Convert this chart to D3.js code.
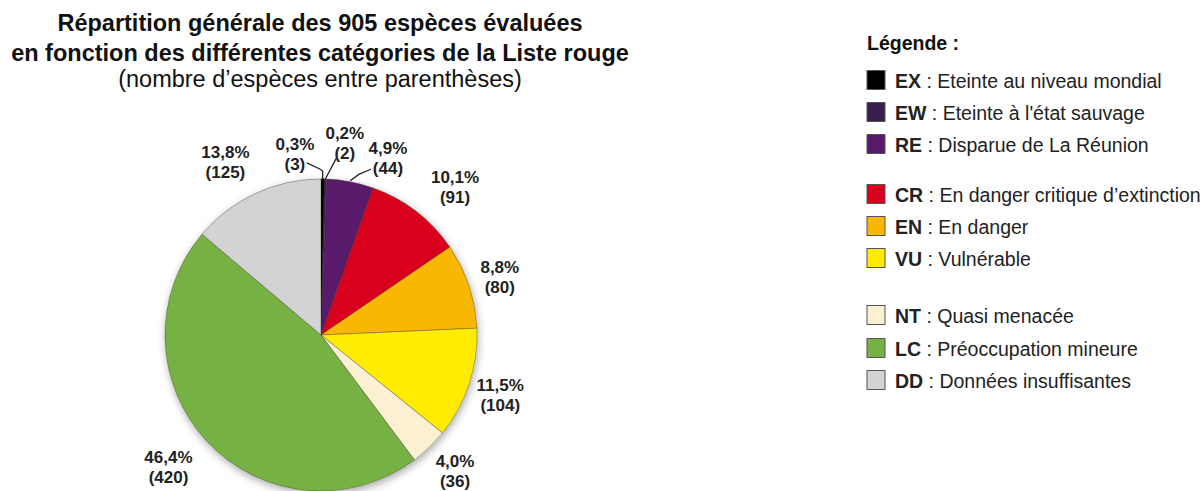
<!DOCTYPE html>
<html><head><meta charset="utf-8">
<script src="https://cdn.jsdelivr.net/npm/d3@7"></script>
<style>
html,body{margin:0;padding:0;background:#fff;}
text{font-family:"Liberation Sans",Arial,sans-serif;}
</style></head>
<body>
<svg id="chart" width="1203" height="491"></svg>
<script>
const categories = ["EX","EW","RE","CR","EN","VU","NT","LC","DD"];
const counts = [3,2,44,91,80,104,36,420,125];
const percentLabels = ["0,3%","0,2%","4,9%","10,1%","8,8%","11,5%","4,0%","46,4%","13,8%"];
const descriptions = ["Eteinte au niveau mondial","Eteinte à l'état sauvage","Disparue de La Réunion",
  "En danger critique d’extinction","En danger","Vulnérable",
  "Quasi menacée","Préoccupation mineure","Données insuffisantes"];
const colors = ["#000000","#3a1d4f","#5a1a6c","#d8001c","#f8b700","#ffec00","#fbf0d2","#76b143","#d3d3d5"];
const titleLines = ["Répartition générale des 905 espèces évaluées",
  "en fonction des différentes catégories de la Liste rouge",
  "(nombre d’espèces entre parenthèses)"];
const legendTitle = "Légende :";

const svg = d3.select("#chart");
const cx = 321, cy = 335, R = 156;

// title
svg.append("g").selectAll("text").data(titleLines).join("text")
  .attr("x", 320).attr("y", (d,i)=>[31,61,87][i])
  .attr("text-anchor","middle")
  .attr("font-size", 23.5)
  .attr("font-weight",(d,i)=>i<2?"bold":"normal")
  .attr("fill","#111")
  .text(d=>d);

// shadow filter
const defs = svg.append("defs");
const f = defs.append("filter").attr("id","sh").attr("x","-20%").attr("y","-20%").attr("width","140%").attr("height","140%");
f.append("feDropShadow").attr("dx",1).attr("dy",3).attr("stdDeviation",4).attr("flood-color","#000").attr("flood-opacity",0.35);

const data = categories.map((c,i)=>({cat:c,count:counts[i],pct:percentLabels[i],color:colors[i]}));
const pie = d3.pie().value(d=>d.count).sort(null).startAngle(0).endAngle(2*Math.PI);
const arcs = pie(data);
const arc = d3.arc().innerRadius(0).outerRadius(R);

const pg = svg.append("g").attr("transform",`translate(${cx},${cy})`);
pg.append("circle").attr("r",R).attr("fill","#ccc").attr("filter","url(#sh)");
pg.selectAll("path").data(arcs).join("path")
  .attr("d",arc).attr("fill",d=>d.data.color)
  .attr("stroke",d=>d.data.cat==="EX"?"#000":"rgba(60,50,30,0.45)").attr("stroke-width",0.8);

// label layout: angle offset (deg) and radius
const labelLayout = {
  EX:{da:-8.8,r:183}, EW:{da:5.5,r:193}, RE:{da:10,r:189},
  CR:{da:4.5,r:200}, EN:{da:0.4,r:188}, VU:{da:0.3,r:189},
  NT:{da:-0.6,r:191}, LC:{da:2.3,r:202}, DD:{da:-4,r:198}
};
const polar = (angDeg,r)=>[r*Math.sin(angDeg*Math.PI/180), -r*Math.cos(angDeg*Math.PI/180)];
const lg = pg.append("g");
arcs.forEach(a=>{
  const mid = (a.startAngle+a.endAngle)/2*180/Math.PI;
  const L = labelLayout[a.data.cat];
  const [x,y] = polar(mid+L.da, L.r);
  const t = lg.append("text").attr("text-anchor","middle").attr("font-size",17).attr("font-weight","bold").attr("fill","#222");
  t.append("tspan").attr("x",x).attr("y",y-4).text(a.data.pct);
  t.append("tspan").attr("x",x).attr("y",y+16).text(`(${a.data.count})`);
  a.lx = x; a.ly = y; a.mid = mid;
});
// leader lines for small slices
const line = d3.line().curve(d3.curveLinear);
const leaders = [];
{
  const a = arcs[0];
  const p0 = polar(a.mid, R), p1 = polar(a.mid, R+8);
  leaders.push([p0,p1,[p1[0]-3,p1[1]-2],[a.lx+12,a.ly+9]]);
}
{
  const a = arcs[1];
  const p0 = polar(a.mid, R), p1 = polar(a.mid+3.3, R+21);
  leaders.push([p0,p1]);
}
{
  const a = arcs[2];
  const p0 = polar(a.mid, R+1), p1 = polar(a.mid+2.5, R+9);
  leaders.push([p0,p1,[a.lx-17,a.ly+11]]);
}
lg.selectAll("path.leader").data(leaders).join("path").attr("class","leader")
  .attr("d",d=>line(d)).attr("fill","none").attr("stroke","#222").attr("stroke-width",1.3);

// legend
const leg = svg.append("g");
leg.append("text").attr("x",867).attr("y",50).attr("font-size",19.5).attr("font-weight","bold").attr("fill","#111").text(legendTitle);
const rowY = [80,112,144,194,226,258,315,348,380];
const rows = leg.selectAll("g.row").data(data).join("g").attr("class","row")
  .attr("transform",(d,i)=>`translate(867,${rowY[i]})`);
rows.append("rect").attr("x",0).attr("y",-9.5).attr("width",18).attr("height",19)
  .attr("fill",d=>d.color).attr("stroke","#555").attr("stroke-width",1);
const lt = rows.append("text").attr("x",28).attr("y",7.5).attr("font-size",19.5).attr("fill","#222");
lt.append("tspan").attr("font-weight","bold").text(d=>d.cat);
lt.append("tspan").text((d,i)=>" : "+descriptions[i]);
</script>
</body></html>
